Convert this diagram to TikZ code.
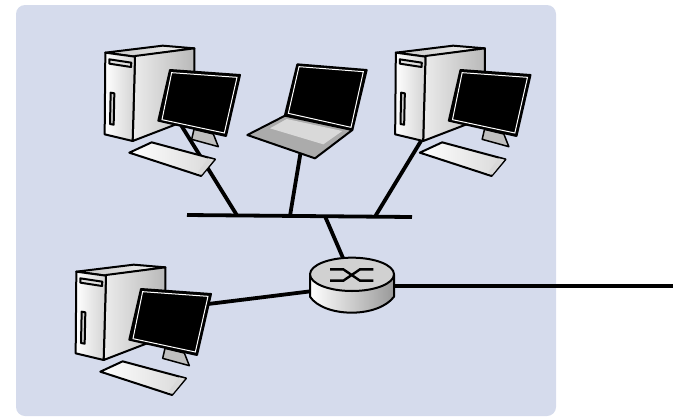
\documentclass[tikz,border=0pt]{standalone}
\begin{document}
\definecolor{panelbg}{RGB}{213,219,236}
\tikzset{
  wire/.style={line width=3.8pt,black},
  shapeline/.style={draw=black,line width=2pt,line join=round},
  towerback/.pic={
    \begin{scope}[x=1pt/3,y=-1pt/3]
    \path[left color=gray!45!white,right color=gray!10!white,shapeline] (46,68)--(218,47)--(313,55)--(135,80)--cycle;
    \path[shapeline,left color=gray!15!white,right color=gray!55!white] (135,78)--(313,55)--(313,200)--(313,262)--(128,333)--cycle;
    \path[shapeline,left color=white,right color=gray!35!white] (46,68)--(135,80)--(128,333)--(44,313)--cycle;
    \path[shapeline,fill=gray!25!white] (58,88)--(124,98)--(123,111)--(58,101)--cycle;
    \path[shapeline,fill=gray!35!white] (62,188)--(73,190)--(71,284)--(60,282)--cycle;
    \path[draw=black,line width=1.5pt,fill=black!25!white,line join=round] (312,298)--(370,312)--(385,350)--(305,328)--cycle;
    \end{scope}
  },
  computerfront/.pic={
    \begin{scope}[x=1pt/3,y=-1pt/3]
    \path[shapeline,fill=black] (240,120)--(450,135)--(408,318)--(205,272)--cycle;
    \path[draw=white,line width=1pt] (245,128)--(441,142)--(403,309)--(216,269)--cycle;
    \path[shapeline,left color=white,right color=gray!30!white] (118,368)--(185,337)--(375,388)--(333,438)--cycle;
    \path[fill=black!15!white] (355,385)--(372,389)--(335,434)--(320,430)--cycle;
    \end{scope}
  }
}
\begin{tikzpicture}[x=1pt,y=-1pt]
\useasboundingbox (0,0) rectangle (673,416);
\fill[panelbg,rounded corners=9pt] (16,5) rectangle (556,416);
\pic at (90,30) {towerback};
\pic at (61,249) {towerback};
\coordinate (busL) at (187,215);
\coordinate (busR) at (412,217);
\coordinate (busA) at (237,215.4);
\coordinate (busB) at (290,215.8);
\coordinate (busC) at (375,216.7);
\coordinate (busD) at (325,216.2);
\coordinate (pcA) at (181,125);
\coordinate (lap) at (301,150);
\coordinate (pcC) at (424,136);
\coordinate (pcD) at (200,305);
\coordinate (rTop) at (343,258);
\coordinate (rLeft) at (313,291);
\coordinate (rRight) at (392,286);
\coordinate (ext) at (673,286);
\draw[wire] (busL)--(busR);
\draw[wire] (pcA)--(busA);
\draw[wire] (lap)--(busB);
\draw[wire] (pcC)--(busC);
\draw[wire] (busD)--(rTop);
\draw[wire] (pcD)--(rLeft);
\draw[wire] (rRight)--(ext);
\pic at (380.5,30) {towerback};
\pic at (90,30) {computerfront};
\pic at (380.5,30) {computerfront};
\pic at (61,249) {computerfront};
\begin{scope}[shift={(235,50)},x=1pt/3,y=-1pt/3]
\path[shapeline,fill=black] (187,43)--(395,60)--(352,240)--(150,195)--cycle;
\path[draw=white,line width=1pt] (192,50)--(385,65)--(348,232)--(160,190)--cycle;
\path[shapeline,fill=black!33!white] (150,197)--(352,240)--(240,325)--(37,255)--cycle;
\path[fill=black!15!white] (155,207)--(322,243)--(265,283)--(105,235)--cycle;
\end{scope}
\begin{scope}[shift={(290,240)},x=1pt/3,y=-1pt/3]
\path[shapeline,left color=white,right color=gray!80!white] (60,103)--(60,170) .. controls (80,200) and (130,218) .. (185,218) .. controls (240,218) and (290,200) .. (312,170)--(312,103)--cycle;
\path[shapeline,fill=black!18!white] (186,103) ellipse [x radius=126,y radius=50];
\draw[line width=2.4pt] (120,88)--(160,88)--(210,122)--(250,122);
\draw[line width=2.4pt] (120,122)--(160,122)--(210,88)--(250,88);
\end{scope}
\end{tikzpicture}
\end{document}
